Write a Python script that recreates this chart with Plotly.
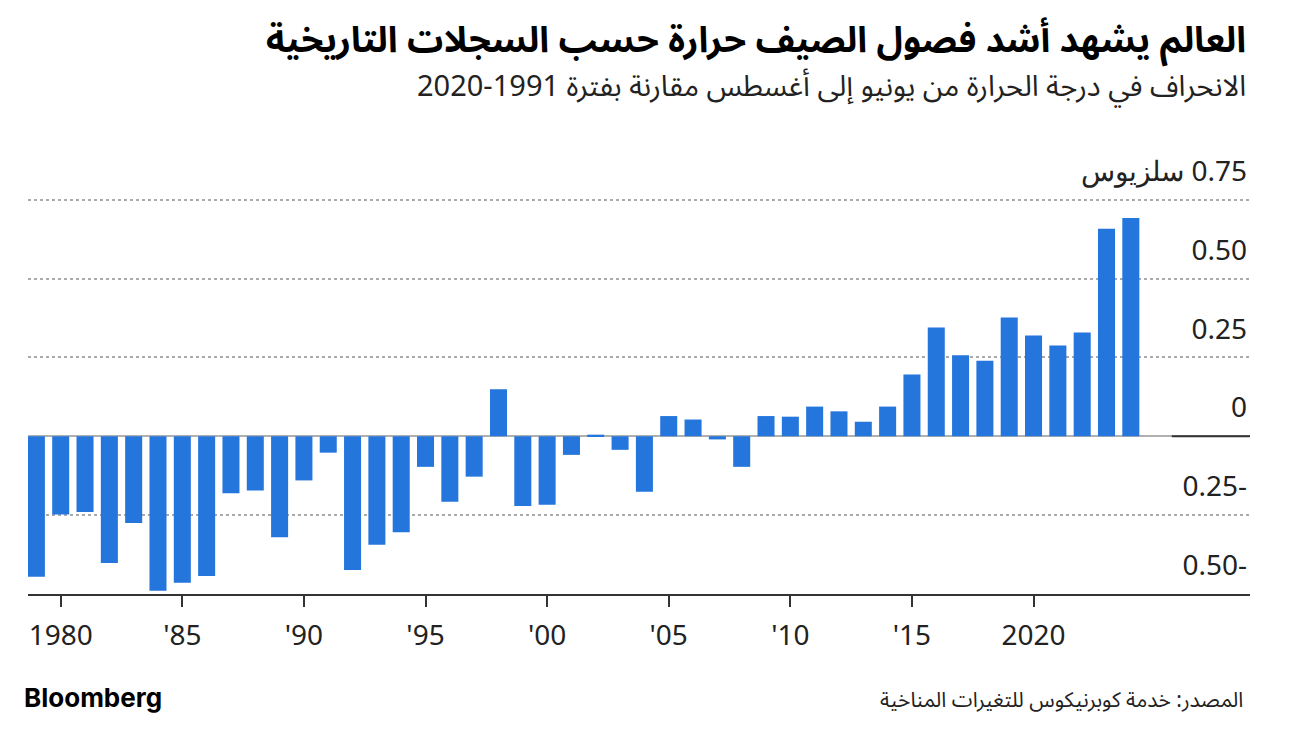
import plotly.graph_objects as go

years = list(range(1979, 2025))
anomaly = [
    -0.445, -0.248, -0.240, -0.402, -0.275, -0.490, -0.464, -0.443, -0.181, -0.172,
    -0.320, -0.140, -0.052, -0.424, -0.344, -0.304, -0.097, -0.208, -0.128, 0.149,
    -0.221, -0.217, -0.059, 0.005, -0.043, -0.176, 0.064, 0.053, -0.010, -0.097,
    0.064, 0.062, 0.094, 0.079, 0.046, 0.094, 0.196, 0.345, 0.257, 0.239,
    0.376, 0.319, 0.288, 0.329, 0.658, 0.692,
]
x_tickvals = [1980, 1985, 1990, 1995, 2000, 2005, 2010, 2015, 2020]
x_ticktext = ["1980", "'85", "'90", "'95", "'00", "'05", "'10", "'15", "2020"]
y_tickvals = [-0.5, -0.25, 0, 0.25, 0.5, 0.75]
y_ticktext = ["0.50-", "0.25-", "0", "0.25", "0.50", "سلزيوس\u200e 0.75"]

title = "العالم يشهد أشد فصول الصيف حرارة حسب السجلات التاريخية"
subtitle = "الانحراف في درجة الحرارة من يونيو إلى أغسطس مقارنة بفترة 1991-2020"
source = "المصدر: خدمة كوبرنيكوس للتغيرات المناخية"

BLUE = "#2475DC"
TXT = "#222222"
NUM_FONT = "Noto Sans, Roboto, sans-serif"
AR_FONT = "Noto Sans Arabic, DejaVu Sans, sans-serif"

fig = go.Figure()
fig.add_trace(go.Bar(x=years, y=anomaly, marker=dict(color=BLUE, line=dict(width=0)),
                     width=0.7, hoverinfo="x+y"))

fig.update_layout(
    width=1280, height=726,
    margin=dict(l=20, r=38, t=132, b=140),
    paper_bgcolor="white", plot_bgcolor="white",
    showlegend=False,
)
fig.update_xaxes(
    range=[1978.655, 2028.9],
    tickvals=x_tickvals, ticktext=x_ticktext,
    showgrid=False, zeroline=False,
    showline=True, linecolor="#333333", linewidth=2,
    ticks="outside", ticklen=11, tickwidth=1.5, tickcolor="#333333",
    ticklabelstandoff=4,
    tickfont=dict(family=NUM_FONT, size=28, color=TXT),
)
fig.update_yaxes(
    range=[-0.5, 0.939], side="right",
    tickvals=y_tickvals, ticktext=y_ticktext,
    ticklabelposition="inside top", ticklabelshift=-9,
    showgrid=True, gridcolor="#aaaaaa", gridwidth=1.5, griddash="dot",
    zeroline=True, zerolinecolor="#b0b0b0", zerolinewidth=2,
    showline=False, ticks="",
    tickfont=dict(family=NUM_FONT, size=28, color=TXT),
)
# dark zero segment on right
fig.add_shape(type="line", xref="x domain", yref="y", x0=0.936, x1=1.0, y0=0, y1=0,
              line=dict(color="#333333", width=2))

fig.add_annotation(text=f"<b>{title}</b>", xref="paper", yref="paper", x=1, y=1,
                   xanchor="right", yanchor="middle", xshift=-2, yshift=99, showarrow=False,
                   font=dict(family=AR_FONT, size=36, color="#000000"))
fig.add_annotation(text=subtitle, xref="paper", yref="paper", x=1, y=1,
                   xanchor="right", yanchor="middle", xshift=-2, yshift=54, showarrow=False,
                   font=dict(family=AR_FONT, size=29, color=TXT))
fig.add_annotation(text="<b>Bloomberg</b>", xref="paper", yref="paper", x=0, y=0,
                   xanchor="left", yanchor="middle", xshift=-6, yshift=-103, showarrow=False,
                   font=dict(family="Inter, Roboto, sans-serif", size=26, color="#000000"))
fig.add_annotation(text=source, xref="paper", yref="paper", x=1, y=0,
                   xanchor="right", yanchor="middle", xshift=-5, yshift=-106, showarrow=False,
                   font=dict(family=AR_FONT, size=21, color=TXT))

fig.write_html("out.html")
